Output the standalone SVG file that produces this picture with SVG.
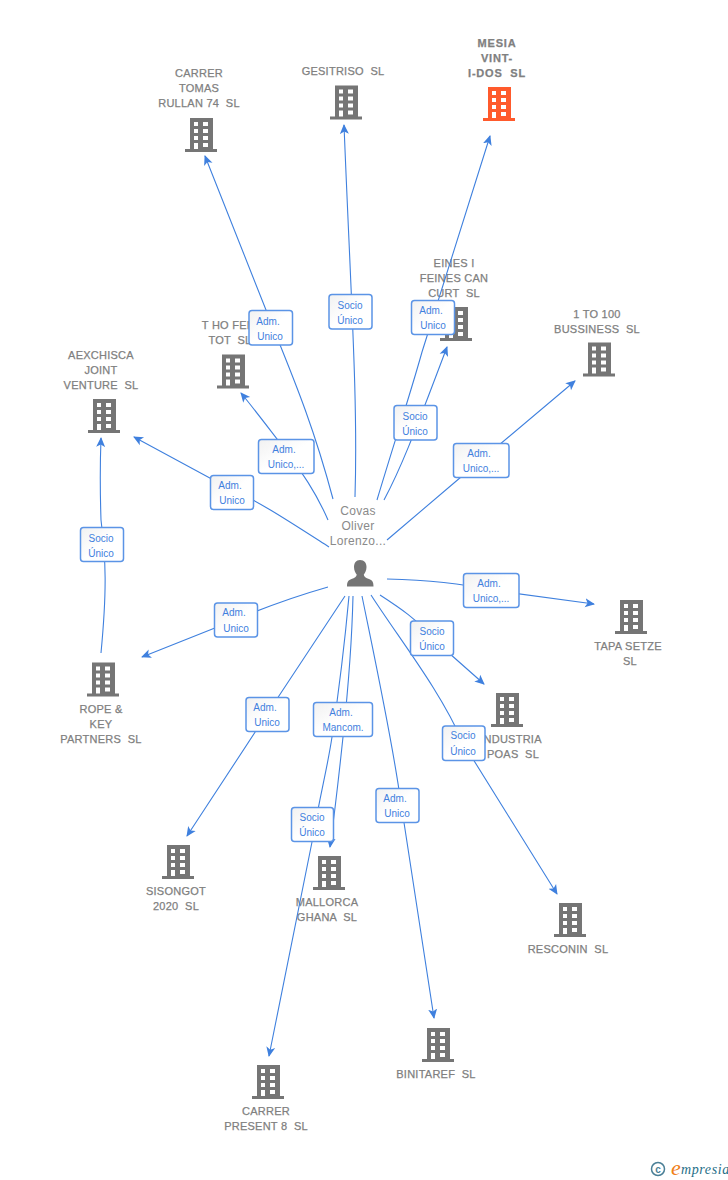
<svg xmlns="http://www.w3.org/2000/svg" width="728" height="1180" viewBox="0 0 728 1180">
<style>
.n{font:11px "Liberation Sans",Arial,sans-serif;fill:#808080;text-anchor:middle;stroke:#808080;stroke-width:.25;letter-spacing:.25px;white-space:pre}
.m{font-weight:bold;letter-spacing:.8px}
.p{font:12px "Liberation Sans",Arial,sans-serif;fill:#8a8a8a;text-anchor:middle;letter-spacing:.3px}
.l{font:10px "Liberation Sans",Arial,sans-serif;fill:#3f80de;text-anchor:middle}
.e{fill:none;stroke:#3f80de;stroke-width:1.1;marker-end:url(#a)}
.b{fill:url(#g);stroke:#5b94e6;stroke-width:1.5}
</style>
<defs>
<linearGradient id="g" x1="0" y1="0" x2="1" y2="1"><stop offset="0" stop-color="#f1f1f1"/><stop offset=".5" stop-color="#fff"/><stop offset="1" stop-color="#fff"/></linearGradient>
<marker id="a" markerUnits="userSpaceOnUse" markerWidth="12" markerHeight="12" refX="9" refY="5" orient="auto"><path d="M0 0.5L10 5L0 9.5L2.5 5Z" fill="#3f80de"/></marker>
<symbol id="i" viewBox="0 0 32 34" overflow="visible"><path fill-rule="evenodd" d="M5 0H28V31H32V34H0V31H5ZM9 4V8H13V4ZM18 4V8H23V4ZM9 11V15H13V11ZM18 11V15H23V11ZM9 18V22H13V18ZM18 18V22H23V18ZM9 25V31H13V25ZM18 25V29H23V25Z"/></symbol>
</defs>
<g id="n-tomas" fill="#757575"><use href="#i" x="185" y="118" width="32" height="34"/><text class="n" x="199" y="77">CARRER</text><text class="n" x="199" y="92">TOMAS</text><text class="n" x="199" y="107">RULLAN 74  SL</text></g>
<g id="n-gesitriso" fill="#757575"><use href="#i" x="330" y="85" width="32" height="35"/><text class="n" x="343" y="75">GESITRISO  SL</text></g>
<g id="n-mesia" fill="#ff5a2c"><use href="#i" x="483" y="87" width="32" height="34"/><text class="n m" x="497" y="47">MESIA</text><text class="n m" x="497" y="62">VINT-</text><text class="n m" x="497" y="77">I-DOS  SL</text></g>
<g id="n-eines" fill="#757575"><use href="#i" x="440" y="307" width="32" height="34"/><text class="n" x="454" y="267">EINES I</text><text class="n" x="454" y="282">FEINES CAN</text><text class="n" x="454" y="297">CURT  SL</text></g>
<g id="n-tho" fill="#757575"><use href="#i" x="217" y="354" width="32" height="35"/><text class="n" x="229" y="329">T HO FEM</text><text class="n" x="230" y="344">TOT  SL</text></g>
<g id="n-1to100" fill="#757575"><use href="#i" x="583" y="342" width="32" height="35"/><text class="n" x="597" y="318">1 TO 100</text><text class="n" x="597" y="333">BUSSINESS  SL</text></g>
<g id="n-aexchisca" fill="#757575"><use href="#i" x="88" y="399" width="32" height="34"/><text class="n" x="101" y="359">AEXCHISCA</text><text class="n" x="101" y="374">JOINT</text><text class="n" x="101" y="389">VENTURE  SL</text></g>
<g id="n-tapa" fill="#757575"><use href="#i" x="615" y="600" width="32" height="34"/><text class="n" x="628" y="650">TAPA SETZE</text><text class="n" x="630" y="665">SL</text></g>
<g id="n-rope" fill="#757575"><use href="#i" x="87" y="662" width="32" height="35"/><text class="n" x="101" y="713">ROPE &amp;</text><text class="n" x="101" y="728">KEY</text><text class="n" x="101" y="743">PARTNERS  SL</text></g>
<g id="n-industria" fill="#757575"><use href="#i" x="491" y="693" width="32" height="34"/><text class="n" x="511" y="743">INDUSTRIA</text><text class="n" x="513" y="758">POAS  SL</text></g>
<g id="n-sisongot" fill="#757575"><use href="#i" x="162" y="845" width="32" height="34"/><text class="n" x="176" y="895">SISONGOT</text><text class="n" x="176" y="910">2020  SL</text></g>
<g id="n-mallorca" fill="#757575"><use href="#i" x="313" y="856" width="32" height="34"/><text class="n" x="327" y="906">MALLORCA</text><text class="n" x="327" y="921">GHANA  SL</text></g>
<g id="n-resconin" fill="#757575"><use href="#i" x="554" y="903" width="32" height="34"/><text class="n" x="568" y="953">RESCONIN  SL</text></g>
<g id="n-binitaref" fill="#757575"><use href="#i" x="422" y="1028" width="32" height="34"/><text class="n" x="436" y="1078">BINITAREF  SL</text></g>
<g id="n-present" fill="#757575"><use href="#i" x="252" y="1065" width="32" height="34"/><text class="n" x="266" y="1115">CARRER</text><text class="n" x="266" y="1130">PRESENT 8  SL</text></g>
<g id="n-person"><text class="p" x="358" y="515">Covas</text><text class="p" x="358" y="530">Oliver</text><text class="p" x="358" y="545">Lorenzo...</text><path fill="#757575" d="M360 560C364.500 560 366.500 563 366.500 567C366.500 570.500 365 573 363.800 574.500C363.800 577 366 578 369 579C372 580 373.500 581.500 373.500 586.500H347C347 581.500 348.500 580 351.500 579C354.500 578 356.700 577 356.700 574.500C355.500 573 354 570.500 354 567C354 563 356 560 360 560Z"/></g>
<g id="connectors">
<path class="e" d="M333 499C312 420 290 370 268 315L205 156"/>
<path class="e" d="M355 497C358 400 351 300 344 125"/>
<path class="e" d="M377 500C395 440 410 395 422 352L490 136"/>
<path class="e" d="M384 500C400 470 412 440 447 347"/>
<path class="e" d="M328 520C315 490 300 470 284 448C270 430 255 410 241 393"/>
<path class="e" d="M329 547C290 522 255 499 232 490L134 437"/>
<path class="e" d="M387 540L461 477L575 381"/>
<path class="e" d="M101 653C107 590 106 560 101 520C100 490 100 465 101 438"/>
<path class="e" d="M328 587C300 595 275 603 235 620L142 657"/>
<path class="e" d="M345 596L267 714L187 836"/>
<path class="e" d="M353 596C352 640 348 690 343 737C339 775 335 810 330 847"/>
<path class="e" d="M349 596C345 640 339 690 332 737C327 770 321 790 312 842L269 1056"/>
<path class="e" d="M362 596C375 660 390 730 399 790L434 1018"/>
<path class="e" d="M371 595C400 640 440 690 463 743L557 894"/>
<path class="e" d="M380 595C400 608 418 620 432 638L484 684"/>
<path class="e" d="M387 579C430 580 460 583 490 590L594 604"/>
</g>
<g id="labels">
<rect class="b" x="249" y="310.500" width="43.500" height="34.500" rx="3"/><text class="l" x="268" y="325">Adm.</text><text class="l" x="270" y="340">Unico</text>
<rect class="b" x="329" y="294.500" width="43" height="34.500" rx="3"/><text class="l" x="350" y="309">Socio</text><text class="l" x="350" y="324">Único</text>
<rect class="b" x="411.500" y="300.500" width="43" height="34" rx="3"/><text class="l" x="431" y="314">Adm.</text><text class="l" x="433" y="329">Unico</text>
<rect class="b" x="394" y="405.500" width="43" height="34.500" rx="3"/><text class="l" x="415" y="420">Socio</text><text class="l" x="415" y="435">Único</text>
<rect class="b" x="258.500" y="439.500" width="55.500" height="34" rx="3"/><text class="l" x="284" y="453">Adm.</text><text class="l" x="286" y="468">Unico,...</text>
<rect class="b" x="210.500" y="475.500" width="43" height="34" rx="3"/><text class="l" x="230" y="489">Adm.</text><text class="l" x="232" y="504">Unico</text>
<rect class="b" x="453.500" y="443.500" width="55.500" height="34" rx="3"/><text class="l" x="479" y="457">Adm.</text><text class="l" x="481" y="472">Unico,...</text>
<rect class="b" x="80.500" y="527.500" width="43" height="34" rx="3"/><text class="l" x="101" y="542">Socio</text><text class="l" x="101" y="557">Único</text>
<rect class="b" x="463.500" y="573.500" width="55.500" height="34" rx="3"/><text class="l" x="489" y="587">Adm.</text><text class="l" x="491" y="602">Unico,...</text>
<rect class="b" x="214.500" y="603" width="43" height="34" rx="3"/><text class="l" x="234" y="616">Adm.</text><text class="l" x="236" y="632">Unico</text>
<rect class="b" x="410.500" y="621" width="43" height="34.500" rx="3"/><text class="l" x="432" y="635">Socio</text><text class="l" x="432" y="650">Único</text>
<rect class="b" x="246" y="697.500" width="43" height="34" rx="3"/><text class="l" x="265" y="711">Adm.</text><text class="l" x="267" y="726">Unico</text>
<rect class="b" x="313.500" y="702.500" width="59" height="34" rx="3"/><text class="l" x="341" y="716">Adm.</text><text class="l" x="343" y="731">Mancom.</text>
<rect class="b" x="442.500" y="726" width="42.500" height="34.500" rx="3"/><text class="l" x="463" y="739">Socio</text><text class="l" x="463" y="755">Único</text>
<rect class="b" x="291.500" y="807.500" width="42" height="34" rx="3"/><text class="l" x="312" y="821">Socio</text><text class="l" x="312" y="836">Único</text>
<rect class="b" x="376" y="788.500" width="43" height="34" rx="3"/><text class="l" x="395" y="802">Adm.</text><text class="l" x="397" y="817">Unico</text>
</g>
<g id="logo"><circle cx="658" cy="1169" r="6.500" fill="none" stroke="#4a7f96" stroke-width="1.500"/><text x="658" y="1172.500" font-family="Liberation Sans,sans-serif" font-size="10" font-weight="bold" fill="#4a7f96" text-anchor="middle">c</text><text x="671" y="1175" font-family="Liberation Serif,serif" font-size="22" font-style="italic" fill="#f08018">e</text><text x="681" y="1174" font-family="Liberation Serif,serif" font-size="14" font-style="italic" letter-spacing=".6" fill="#1f6f88">mpresia</text></g>
</svg>
